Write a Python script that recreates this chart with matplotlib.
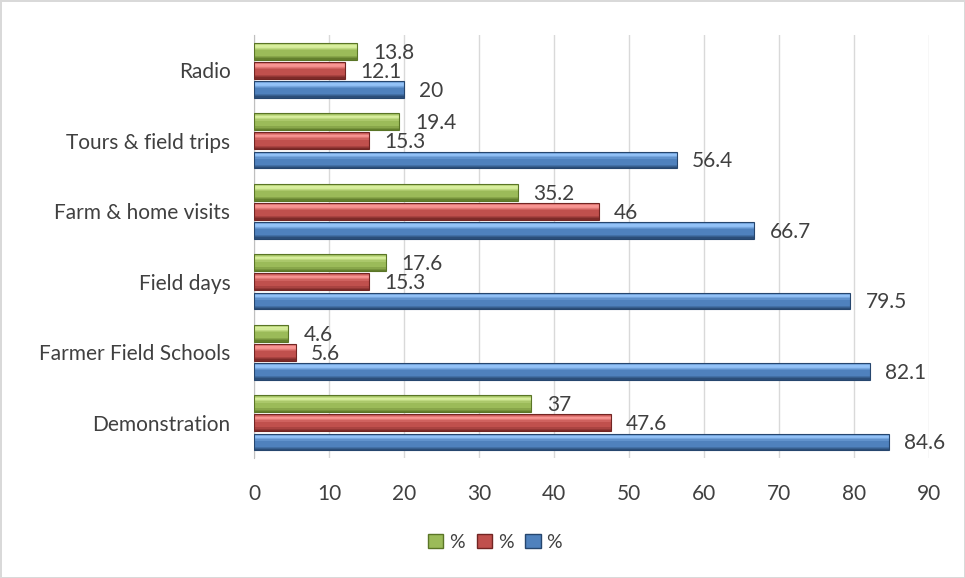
import matplotlib.pyplot as plt
import numpy as np
from matplotlib.colors import LinearSegmentedColormap
from matplotlib.patches import Patch

categories = ["Demonstration", "Farmer Field Schools", "Field days",
              "Farm & home visits", "Tours & field trips", "Radio"]
blue_vals = [84.6, 82.1, 79.5, 66.7, 56.4, 20]
red_vals = [47.6, 5.6, 15.3, 46, 15.3, 12.1]
green_vals = [37, 4.6, 17.6, 35.2, 19.4, 13.8]
series_names = ["%", "%", "%"]
xticks = list(range(0, 100, 10))

# (light, base, dark) for each series
palettes = {
    "blue": ("#9CCBFF", "#4F81BD", "#26466E"),
    "red": ("#FF9E9B", "#C0504D", "#722523"),
    "green": ("#E0F5A6", "#9BBB59", "#5A7526"),
}

plt.rcParams['font.family'] = ['Lato', 'DejaVu Sans']

fig = plt.figure(figsize=(9.65, 5.78), dpi=100)
fig.patch.set_edgecolor('#D9D9D9')
fig.patch.set_linewidth(1.0)
ax = fig.add_axes([0.2632, 0.2076, 0.6995, 0.7318])

y = np.arange(len(categories))
off = 0.27
h = 0.235
nstrips = 14


def bevel_bars(vals, ypos, name):
    light, base, dark = palettes[name]
    cmap = LinearSegmentedColormap.from_list(
        name, [(0, dark), (0.25, base), (0.55, base),
               (0.8, light), (1.0, base)])
    # stack thin strips bottom -> top to fake the bevelled look
    for k in range(nstrips):
        frac = (k + 0.5) / nstrips
        ax.barh(ypos - h / 2 + k * h / nstrips, vals, height=h / nstrips,
                align='edge', color=cmap(frac), linewidth=0, zorder=3)
    ax.barh(ypos, vals, height=h, fill=False, edgecolor=dark,
            linewidth=0.8, zorder=4)
    for v, yy in zip(vals, ypos):
        ax.annotate(f"{v:g}", (v, yy), xytext=(11, -1),
                    textcoords='offset points', ha='left', va='center',
                    fontsize=15, color='#404040', zorder=5)


bevel_bars(blue_vals, y - off, "blue")
bevel_bars(red_vals, y, "red")
bevel_bars(green_vals, y + off, "green")

ax.set_xlim(0, 90)
ax.set_ylim(-0.5, len(categories) - 0.5)
ax.set_xticks(xticks)
ax.set_yticks(y)
ax.set_yticklabels(categories)
ax.grid(axis='x', color='#D9D9D9', linewidth=1, zorder=0)
ax.set_axisbelow(True)
for s in ('top', 'right', 'bottom'):
    ax.spines[s].set_visible(False)
ax.spines['left'].set_color('#BFBFBF')
ax.tick_params(axis='both', length=0, labelsize=15, colors='#404040')
ax.tick_params(axis='x', pad=19)
ax.tick_params(axis='y', pad=17)

handles = [Patch(facecolor=palettes[n][1], edgecolor=palettes[n][2])
           for n in ("green", "red", "blue")]
fig.legend(handles, series_names, loc='center', ncol=3,
           bbox_to_anchor=(0.513, 0.062), frameon=False, fontsize=14,
           handlelength=0.8, handleheight=0.8, handletextpad=0.3,
           columnspacing=0.6, labelcolor='#404040')

fig.savefig("out.png", dpi=100)
